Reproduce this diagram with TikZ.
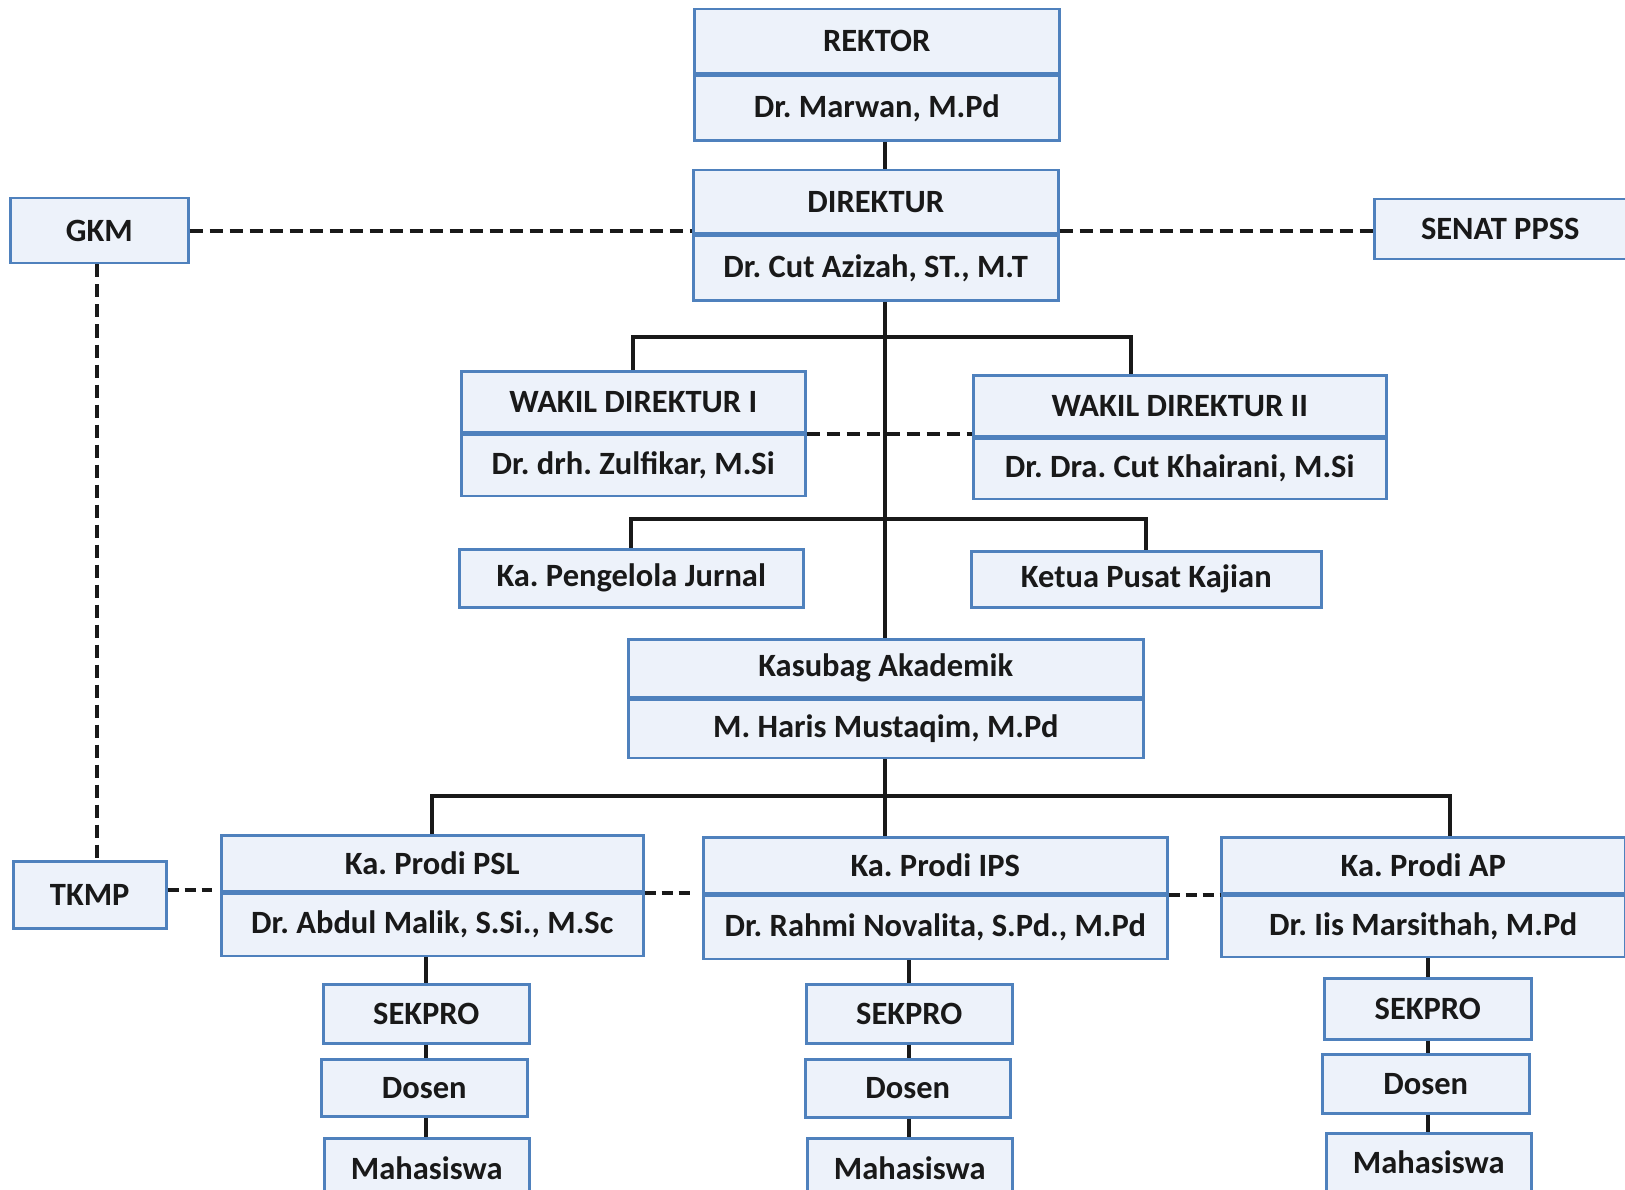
\documentclass[tikz,border=0pt]{standalone}
\usepackage{fontspec}
\setmainfont{Carlito}
\usetikzlibrary{positioning}
\frenchspacing

\definecolor{boxline}{RGB}{79,129,189}
\definecolor{boxfill}{RGB}{237,242,250}

\tikzset{every picture/.style={line width=0.75pt}}
\tikzset{
  unit/.style={draw=boxline, fill=boxfill, line width=2.5pt, inner sep=0pt,
    text=black!90, font=\fontsize{32.5}{38}\selectfont\bfseries},
  link/.style={line width=4pt, black!90},
  dlink/.style={link, dash pattern=on 13pt off 7pt},
  slink/.style={link, dash pattern=on 11pt off 6pt}
}

\begin{document}
\begin{tikzpicture}[x=1pt,y=1pt,yscale=-1,xscale=1]
  \useasboundingbox (0,0) rectangle (1625,1190);

  % Rektor
  \node[unit, anchor=north west, minimum width=365pt, minimum height=64pt] (rektor) at (693,8) {REKTOR};
  \node[unit, anchor=north, minimum width=365pt, minimum height=65pt] (rektorNm) at (rektor.south) {Dr. Marwan, M.Pd};
  % Direktur
  \node[unit, anchor=north west, minimum width=365pt, minimum height=63pt] (direktur) at (692,169) {DIREKTUR};
  \node[unit, anchor=north, minimum width=365pt, minimum height=65pt] (direkturNm) at (direktur.south) {Dr. Cut Azizah, ST., M.T};
  % GKM and Senat
  \node[unit, anchor=north west, minimum width=178pt, minimum height=65pt] (gkm) at (9,197) {GKM};
  \node[unit, anchor=north west, minimum width=252pt, minimum height=60pt] (senat) at (1373,198) {SENAT PPSS};
  % Wakil direktur
  \node[unit, anchor=north west, minimum width=344pt, minimum height=61pt] (wakil1) at (460,370) {WAKIL DIREKTUR I};
  \node[unit, anchor=north, minimum width=344pt, minimum height=61pt] (wakil1Nm) at (wakil1.south) {Dr. drh. Zulfikar, M.Si};
  \node[unit, anchor=north west, minimum width=413pt, minimum height=61pt] (wakil2) at (972,374) {WAKIL DIREKTUR II};
  \node[unit, anchor=north, minimum width=413pt, minimum height=60pt] (wakil2Nm) at (wakil2.south) {Dr. Dra. Cut Khairani, M.Si};
  % Jurnal and Pusat Kajian
  \node[unit, anchor=north west, minimum width=344pt, minimum height=58pt] (jurnal) at (458,548) {Ka. Pengelola Jurnal};
  \node[unit, anchor=north west, minimum width=350pt, minimum height=56pt] (kajian) at (970,550) {Ketua Pusat Kajian};
  % Kasubag
  \node[unit, anchor=north west, minimum width=515pt, minimum height=58pt] (kasubag) at (627,638) {Kasubag Akademik};
  \node[unit, anchor=north, minimum width=515pt, minimum height=58pt] (kasubagNm) at (kasubag.south) {M. Haris Mustaqim, M.Pd};
  % Prodi
  \node[unit, anchor=north west, minimum width=422pt, minimum height=56pt] (psl) at (220,834) {Ka. Prodi PSL};
  \node[unit, anchor=north, minimum width=422pt, minimum height=62pt] (pslNm) at (psl.south) {Dr. Abdul Malik, S.Si., M.Sc};
  \node[unit, anchor=north west, minimum width=464pt, minimum height=56pt] (ips) at (702,836) {Ka. Prodi IPS};
  \node[unit, anchor=north, minimum width=464pt, minimum height=63pt] (ipsNm) at (ips.south) {Dr. Rahmi Novalita, S.Pd., M.Pd};
  \node[unit, anchor=north west, minimum width=404pt, minimum height=56pt] (ap) at (1220,836) {Ka. Prodi AP};
  \node[unit, anchor=north, minimum width=404pt, minimum height=61pt] (apNm) at (ap.south) {Dr. Iis Marsithah, M.Pd};
  % TKMP
  \node[unit, anchor=north west, minimum width=153pt, minimum height=67pt] (tkmp) at (12,860) {TKMP};
  % Sekpro, Dosen, Mahasiswa
  \node[unit, anchor=north west, minimum width=206pt, minimum height=59pt] (pslSek) at (322,983) {SEKPRO};
  \node[unit, anchor=north west, minimum width=206pt, minimum height=57pt] (pslDos) at (320,1058) {Dosen};
  \node[unit, anchor=north west, minimum width=205pt, minimum height=60pt] (pslMhs) at (323,1137) {Mahasiswa};
  \node[unit, anchor=north west, minimum width=206pt, minimum height=59pt] (ipsSek) at (805,983) {SEKPRO};
  \node[unit, anchor=north west, minimum width=205pt, minimum height=58pt] (ipsDos) at (804,1058) {Dosen};
  \node[unit, anchor=north west, minimum width=205pt, minimum height=60pt] (ipsMhs) at (806,1137) {Mahasiswa};
  \node[unit, anchor=north west, minimum width=207pt, minimum height=61pt] (apSek) at (1323,977) {SEKPRO};
  \node[unit, anchor=north west, minimum width=207pt, minimum height=59pt] (apDos) at (1321,1053) {Dosen};
  \node[unit, anchor=north west, minimum width=205pt, minimum height=58pt] (apMhs) at (1325,1132) {Mahasiswa};

  % helper points
  \coordinate (trunk) at (885,0);
  \coordinate (wkbar) at (0,337);
  \coordinate (w2drop) at (1131,374);
  \coordinate (jrbar) at (0,519);
  \coordinate (pdbar) at (0,796);
  \coordinate (apdrop) at (1450,836);

  % solid lines
  \draw[link] (rektorNm.south -| trunk) -- (direktur.north -| trunk);
  \draw[link] (direkturNm.south -| trunk) -- (kasubag.north -| trunk);
  \draw[link] (kasubagNm.south -| trunk) -- (ips.north -| trunk);
  \draw[link] (wakil1.north) |- (wkbar -| w2drop) -- (w2drop);
  \draw[link] (jurnal.north) |- (jrbar -| kajian) -- (kajian.north);
  \draw[link] (psl.north) |- (pdbar -| apdrop) -- (apdrop);
  \draw[link] (pslSek.north |- pslNm.south) -- (pslSek.north);
  \draw[link] (pslSek.south) -- (pslSek.south |- pslDos.north);
  \draw[link] (pslSek.south |- pslDos.south) -- (pslSek.south |- pslMhs.north);
  \draw[link] (ipsSek.north |- ipsNm.south) -- (ipsSek.north);
  \draw[link] (ipsSek.south) -- (ipsSek.south |- ipsDos.north);
  \draw[link] (ipsSek.south |- ipsDos.south) -- (ipsSek.south |- ipsMhs.north);
  \draw[link] (apSek.north |- apNm.south) -- (apSek.north);
  \draw[link] (apSek.south) -- (apSek.south |- apDos.north);
  \draw[link] (apSek.south |- apDos.south) -- (apSek.south |- apMhs.north);

  % dashed lines
  \draw[dlink] (gkm.east |- 0,231) -- (direktur.west |- 0,231);
  \draw[dlink] (direktur.east |- 0,231) -- (senat.west |- 0,231);
  \draw[dlink] (wakil1Nm.north east) -- (wakil1Nm.north east -| wakil2.west);
  \draw[dlink] (gkm.south -| 97,0) -- (tkmp.north -| 97,0);
  \draw[slink, shorten >=8pt] (tkmp.east |- 0,890) -- (psl.west |- 0,890);
  \draw[slink, shorten >=8pt] (pslNm.north east) -- (pslNm.north east -| ips.west);
  \draw[slink] (ipsNm.north east) -- (ipsNm.north east -| ap.west);
\end{tikzpicture}
\end{document}
